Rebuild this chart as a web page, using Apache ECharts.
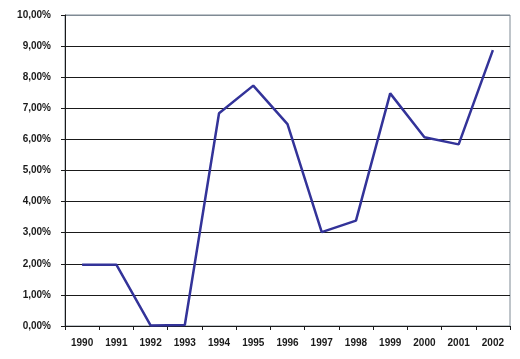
<!DOCTYPE html>
<html>
<head>
<meta charset="utf-8">
<script src="https://cdn.jsdelivr.net/npm/echarts@6/dist/echarts.min.js"></script>
<style>
  html, body { margin: 0; padding: 0; background: #fff; }
  #chart { width: 520px; height: 359px; }
</style>
</head>
<body>
<div id="chart"></div>
<script>
// years on the x axis
var years = ['1990', '1991', '1992', '1993', '1994', '1995', '1996', '1997', '1998', '1999', '2000', '2001', '2002'];
// percent values
var rates = [1.97, 1.97, 0.02, 0.03, 6.84, 7.73, 6.49, 3.02, 3.39, 7.48, 6.07, 5.84, 8.87];
// y axis range
var yMin = 0;
var yMax = 10;
var yStep = 1;

var gridColors = [];
for (var i = 0; i < 10; i++) gridColors.push('#1a1a1a');
gridColors.push('#7f8a94');

var myChart = echarts.init(document.getElementById('chart'));
var option = {
    animation: false,
    grid: {
        left: 65,
        right: 10,
        top: 15,
        bottom: 33,
        show: true,
        borderColor: '#7f8a94',
        borderWidth: 1
    },
    xAxis: {
        type: 'category',
        data: years,
        boundaryGap: true,
        axisLine: { lineStyle: { color: '#1a1a1a', width: 1 } },
        axisTick: { show: true, length: 4, lineStyle: { color: '#1a1a1a' } },
        axisLabel: {
            color: '#1a1a1a',
            fontFamily: 'Liberation Sans',
            fontWeight: 'bold',
            fontSize: 10,
            margin: 12
        },
        splitLine: { show: false }
    },
    yAxis: {
        type: 'value',
        min: yMin,
        max: yMax,
        interval: yStep,
        axisLine: { show: true, lineStyle: { color: '#1a1a1a', width: 1 } },
        axisTick: { show: true, length: 4, lineStyle: { color: '#1a1a1a' } },
        axisLabel: {
            color: '#1a1a1a',
            fontFamily: 'Liberation Sans',
            fontWeight: 'bold',
            fontSize: 10,
            margin: 14,
            formatter: function (v) {
                return v.toFixed(2).replace('.', ',') + '%';
            }
        },
        splitLine: { show: true, lineStyle: { color: gridColors, width: 1 } }
    },
    series: [{
        type: 'line',
        data: rates,
        showSymbol: false,
        symbol: 'none',
        lineStyle: { color: '#333399', width: 2.5 }
    }]
};
myChart.setOption(option);
</script>
</body>
</html>
